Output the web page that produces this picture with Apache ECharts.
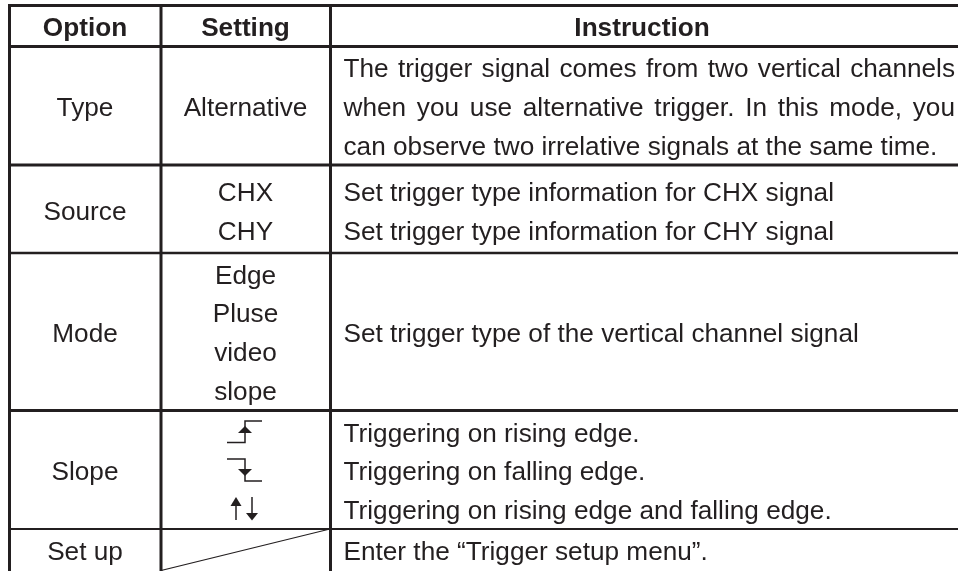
<!DOCTYPE html>
<html><head><meta charset="utf-8">
<style>html,body{margin:0;padding:0;background:#fff}#c{width:958px;height:571px}</style>
<script src="https://cdn.jsdelivr.net/npm/echarts@6/dist/echarts.min.js"></script>
</head><body><div id="c"></div>
<script>
const headers = ['Option', 'Setting', 'Instruction'];
const options = ['Type', 'Source', 'Mode', 'Slope', 'Set up'];
const settings = ['Alternative', 'CHX', 'CHY', 'Edge', 'Pluse', 'video', 'slope'];
const instructions = [
  'The trigger signal comes from two vertical channels',
  'when you use alternative trigger. In this mode, you',
  'can observe two irrelative signals at the same time.',
  'Set trigger type information for CHX signal',
  'Set trigger type information for CHY signal',
  'Set trigger type of the vertical channel signal',
  'Triggering on rising edge.',
  'Triggering on falling edge.',
  'Triggering on rising edge and falling edge.',
  'Enter the \u201cTrigger setup menu\u201d.'
];

// Layout (in axis units, which equal page pixels)
const W = 958, H = 571;
const FONT = '"Liberation Sans", Arial, sans-serif';
const SIZE = 26.2, INK = '#231f20';
const colX = [9.5, 161, 330.5];
const hRules = [[5.5, 3], [46.5, 3], [165, 3], [253, 2.4], [410.5, 3], [529, 2.2]];
const optBase = [115, 219, 341, 479, 559];
const setBase = [115, 200, 239, 283, 321, 360, 399];
const insBase = [76, 115, 154, 200, 239, 341, 441, 479, 518, 559];
const justifyTo = 955, insX = 343.5;
const MID = 6;

const ctx = document.createElement('canvas').getContext('2d');
ctx.font = SIZE + 'px ' + FONT;

const runs = [];
const cx1 = 85, cx2 = 245.5;
runs.push({x: cx1, y: 35, t: headers[0], bold: 1, a: 'center'});
runs.push({x: cx2, y: 35, t: headers[1], bold: 1, a: 'center'});
runs.push({x: 642, y: 35, t: headers[2], bold: 1, a: 'center'});
options.forEach((t, i) => runs.push({x: cx1, y: optBase[i], t, a: 'center'}));
settings.forEach((t, i) => runs.push({x: cx2, y: setBase[i], t, a: 'center'}));
instructions.forEach((t, i) => {
  if (i < 2) {
    const words = t.split(' ');
    const sum = words.reduce((s, w) => s + ctx.measureText(w).width, 0);
    const gap = (justifyTo - insX - sum) / (words.length - 1);
    let x = insX;
    words.forEach(w => { runs.push({x, y: insBase[i], t: w, a: 'left'}); x += ctx.measureText(w).width + gap; });
  } else {
    runs.push({x: insX, y: insBase[i], t, a: 'left'});
  }
});

// Rules: [x1, y1, x2, y2, width]
const rules = [];
hRules.forEach(r => rules.push([8, r[0], W, r[0], r[1]]));
colX.forEach(x => rules.push([x, 4, x, H, 3]));
rules.push([161, 570.5, 330, 529, 1.1]);

// Slope glyphs: polylines and filled triangles
const glyphLines = [
  [[227, 442.5], [245, 442.5], [245, 421], [262, 421]],
  [[227, 459], [245, 459], [245, 481], [262, 481]],
  [[236, 500], [236, 520]],
  [[252, 497], [252, 515]]
];
const glyphHeads = [
  [[238, 433], [252, 433], [245, 426]],
  [[238, 469], [252, 469], [245, 476]],
  [[230.5, 506], [241.5, 506], [236, 497]],
  [[246, 513], [258, 513], [252, 520.5]]
];

const chart = echarts.init(document.getElementById('c'), null, {renderer: 'canvas'});
chart.setOption({
  animation: false,
  backgroundColor: '#fff',
  grid: {left: 0, right: 0, top: 0, bottom: 0},
  xAxis: {type: 'value', min: 0, max: W, show: false},
  yAxis: {type: 'value', min: 0, max: H, inverse: true, show: false},
  series: [
    {type: 'custom', silent: true, clip: false, data: rules,
     renderItem: (p, api) => {
       const a = api.coord([api.value(0), api.value(1)]), b = api.coord([api.value(2), api.value(3)]);
       return {type: 'line', shape: {x1: a[0], y1: a[1], x2: b[0], y2: b[1]},
               style: {stroke: INK, lineWidth: api.value(4), fill: null}};
     }},
    {type: 'custom', silent: true, clip: false, data: glyphLines.map((_, i) => [i]),
     renderItem: (p, api) => ({type: 'polyline',
       shape: {points: glyphLines[p.dataIndex].map(q => api.coord(q))},
       style: {stroke: INK, lineWidth: 1.5, fill: null}})},
    {type: 'custom', silent: true, clip: false, data: glyphHeads.map((_, i) => [i]),
     renderItem: (p, api) => ({type: 'polygon',
       shape: {points: glyphHeads[p.dataIndex].map(q => api.coord(q))},
       style: {fill: INK}})},
    {type: 'custom', silent: true, clip: false, data: runs.map(r => [r.x, r.y]),
     renderItem: (p, api) => {
       const r = runs[p.dataIndex], c = api.coord([r.x, r.y - MID]);
       return {type: 'text', x: c[0], y: c[1], style: {text: r.t, fill: INK,
         font: (r.bold ? 'bold ' : '') + SIZE + 'px ' + FONT,
         textAlign: r.a, verticalAlign: 'middle'}};
     }}
  ]
});
</script></body></html>
